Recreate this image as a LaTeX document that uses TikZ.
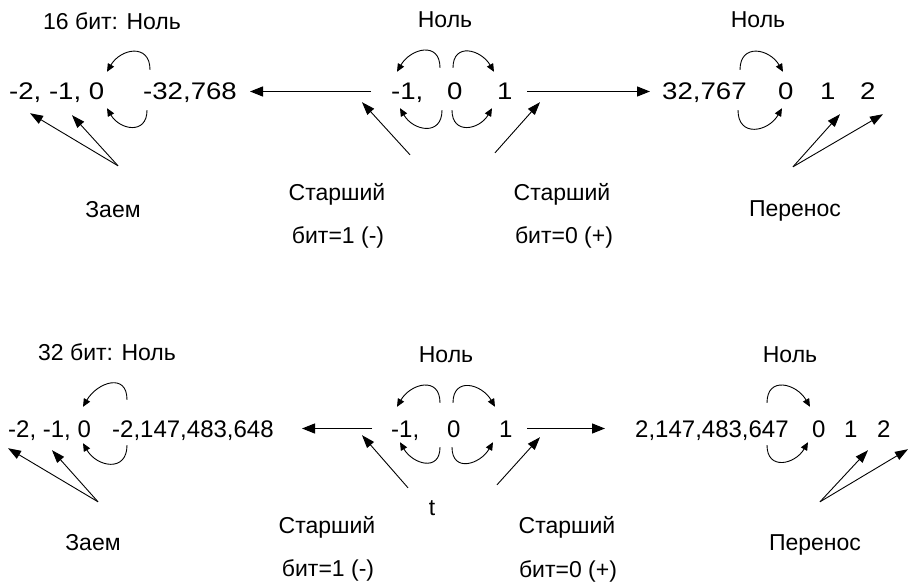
\documentclass[tikz,border=0pt]{standalone}
\usepackage{fontspec}
\setmainfont{Liberation Sans}
\newfontfamily\widefont[FakeStretch=1.15]{Liberation Sans}
\usetikzlibrary{arrows.meta}

\begin{document}
\begin{tikzpicture}[
  x=1pt, y=-1pt,
  num/.style={anchor=base west, inner sep=0pt, text height=17pt, text depth=0pt,
    font=\fontsize{24}{28}\selectfont},
  numw/.style={num, font=\widefont\fontsize{24}{28}\selectfont},
  lbl/.style={anchor=base, inner sep=0pt, text height=16pt, text depth=0pt,
    font=\fontsize{23}{27}\selectfont},
  arrow/.style={-{Triangle[length=13pt,width=10pt]}, line width=1.1pt},
  ptr/.style={-{Triangle[length=13pt,width=9pt]}, line width=0.9pt},
  wrap/.style={-{Triangle[length=8pt,width=7pt]}, line width=0.9pt, looseness=1.6}
]
\useasboundingbox (0,0) rectangle (910,583);

% 16 bit row
\node[lbl] (t16) at (112,30) {16 бит: Ноль};
\node[lbl] (n1) at (445,28) {Ноль};
\node[lbl] (n2) at (758,28) {Ноль};
\node[numw] (aneg) at (9,100) {-2, -1, 0};
\node[numw] (amin) at (143,100) {-32,768};
\node[numw] (am) at (391,100) {-1,};
\node[numw] (az) at (447,100) {0};
\node[numw] (ap) at (497,100) {1};
\node[numw] (bmax) at (662,100) {32,767};
\node[numw] (bz) at (778,100) {0};
\node[numw] (bo) at (820,100) {1};
\node[numw] (btw) at (860,100) {2};
\node[lbl] (zaem) at (113,217) {Заем};
\node[lbl] (sl1) at (337,200) {Старший};
\node[lbl] (bl1) at (338,243) {бит=1 (-)};
\node[lbl] (sr1) at (562,200) {Старший};
\node[lbl] (br1) at (564,243) {бит=0 (+)};
\node[lbl] (pr) at (795,216) {Перенос};

\draw[arrow] ([xshift=-20pt]am.west) -- ([xshift=107pt]amin.west);
\draw[arrow] ([xshift=30pt]ap.west) -- ([xshift=-12pt]bmax.west);

\draw[wrap] ([xshift=7pt,yshift=13pt]amin.north west) to[out=90,in=60] ([xshift=98pt,yshift=11pt]aneg.north west);
\draw[wrap] ([xshift=4pt,yshift=-10pt]amin.south west) to[out=-90,in=-60] ([xshift=98pt,yshift=-8pt]aneg.south west);
\draw[wrap] ([xshift=-7pt,yshift=15pt]az.north west) to[out=90,in=60] ([xshift=6pt,yshift=11pt]am.north west);
\draw[wrap] ([xshift=6pt,yshift=15pt]az.north west) to[out=90,in=120] ([xshift=-3pt,yshift=11pt]ap.north west);
\draw[wrap] ([xshift=-5pt,yshift=-10pt]az.south west) to[out=-90,in=-60] ([xshift=9pt,yshift=-8pt]am.south west);
\draw[wrap] ([xshift=5pt,yshift=-10pt]az.south west) to[out=-90,in=-120] ([xshift=-5pt,yshift=-8pt]ap.south west);
\draw[wrap] ([xshift=78pt,yshift=13pt]bmax.north west) to[out=90,in=120] ([xshift=5pt,yshift=11pt]bz.north west);
\draw[wrap] ([xshift=76pt,yshift=-10pt]bmax.south west) to[out=-90,in=-120] ([xshift=4pt,yshift=-8pt]bz.south west);

\draw[ptr] ([xshift=5pt,yshift=35pt]zaem.north) -- ([xshift=21pt,yshift=-13pt]aneg.south west);
\draw[ptr] ([xshift=5pt,yshift=35pt]zaem.north) -- ([xshift=63pt,yshift=-15pt]aneg.south west);
\draw[ptr] ([xshift=73pt,yshift=29pt]sl1.north) -- ([xshift=-29pt,yshift=-2pt]am.south west);
\draw[ptr] ([xshift=-67pt,yshift=31pt]sr1.north) -- ([xshift=43pt,yshift=-2pt]ap.south west);
\draw[ptr] ([xshift=-2pt,yshift=33pt]pr.north) -- ([xshift=20pt,yshift=-14pt]bo.south west);
\draw[ptr] ([xshift=-2pt,yshift=33pt]pr.north) -- ([xshift=23pt,yshift=-14pt]btw.south west);

% 32 bit row
\node[lbl] (t32) at (107,360) {32 бит: Ноль};
\node[lbl] (n3) at (446,362) {Ноль};
\node[lbl] (n4) at (790,362) {Ноль};
\node[num] (aneg2) at (8,437) {-2, -1, 0};
\node[num] (amin2) at (112,437) {-2,147,483,648};
\node[num] (am2) at (391,437) {-1,};
\node[num] (az2) at (447,437) {0};
\node[num] (ap2) at (499,437) {1};
\node[num] (bmax2) at (635,437) {2,147,483,647};
\node[num] (bz2) at (812,437) {0};
\node[num] (bo2) at (844,437) {1};
\node[num] (btw2) at (877,437) {2};
\node[lbl] (zaem2) at (93,550) {Заем};
\node[lbl] (sl2) at (327,533) {Старший};
\node[lbl] (bl2) at (328,576) {бит=1 (-)};
\node[lbl] (sr2) at (567,533) {Старший};
\node[lbl] (br2) at (568,577) {бит=0 (+)};
\node[lbl] (pr2) at (815,550) {Перенос};
\node[lbl, font=\fontsize{23}{26}\selectfont] (tt) at (432,515) {t};

\draw[arrow] ([xshift=-19pt]am2.west) -- ([xshift=190pt]amin2.west);
\draw[arrow] ([xshift=28pt]ap2.west) -- ([xshift=-30pt]bmax2.west);

\draw[wrap] ([xshift=15pt,yshift=20pt]amin2.north west) to[out=90,in=60] ([xshift=75pt,yshift=13pt]aneg2.north west);
\draw[wrap] ([xshift=15pt,yshift=-8pt]amin2.south west) to[out=-90,in=-60] ([xshift=75pt,yshift=-6pt]aneg2.south west);
\draw[wrap] ([xshift=-7pt,yshift=17pt]az2.north west) to[out=90,in=60] ([xshift=6pt,yshift=13pt]am2.north west);
\draw[wrap] ([xshift=6pt,yshift=17pt]az2.north west) to[out=90,in=120] ([xshift=-4pt,yshift=13pt]ap2.north west);
\draw[wrap] ([xshift=-7pt,yshift=-10pt]az2.south west) to[out=-90,in=-60] ([xshift=9pt,yshift=-5pt]am2.south west);
\draw[wrap] ([xshift=5pt,yshift=-10pt]az2.south west) to[out=-90,in=-120] ([xshift=-6pt,yshift=-5pt]ap2.south west);
\draw[wrap] ([xshift=132pt,yshift=17pt]bmax2.north west) to[out=90,in=120] ([xshift=-2pt,yshift=13pt]bz2.north west);
\draw[wrap] ([xshift=132pt,yshift=-8pt]bmax2.south west) to[out=-90,in=-120] ([xshift=-4pt,yshift=-5pt]bz2.south west);

\draw[ptr] ([xshift=5pt,yshift=32pt]zaem2.north) -- ([yshift=-11pt]aneg2.south west);
\draw[ptr] ([xshift=5pt,yshift=32pt]zaem2.north) -- ([xshift=44pt,yshift=-13pt]aneg2.south west);
\draw[ptr] ([xshift=81pt,yshift=29pt]sl2.north) -- ([xshift=-29pt,yshift=2pt]am2.south west);
\draw[ptr] ([xshift=-70pt,yshift=32pt]sr2.north) -- ([xshift=41pt]ap2.south west);
\draw[ptr] ([xshift=5pt,yshift=32pt]pr2.north) -- ([xshift=24pt,yshift=-13pt]bo2.south west);
\draw[ptr] ([xshift=5pt,yshift=32pt]pr2.north) -- ([xshift=31pt,yshift=-12pt]btw2.south west);
\end{tikzpicture}
\end{document}
